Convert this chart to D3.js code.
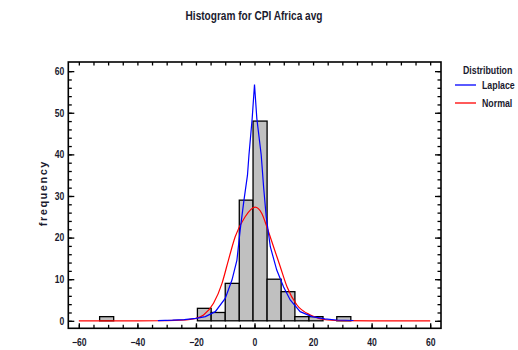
<!DOCTYPE html>
<html>
<head>
<meta charset="utf-8">
<script src="https://cdn.jsdelivr.net/npm/d3@7"></script>
<style>
  body { margin: 0; background: #fff; }
  svg text { font-family: "Liberation Sans Narrow", "Arial Narrow", "Liberation Sans", Arial, sans-serif; fill: #1a1a2e; }
</style>
</head>
<body>
<svg id="chart" width="518" height="350"></svg>
<script>
// ---- data ----
const binEdges = [-52.9, -48.1, -43.4, -38.6, -33.8, -29.1, -24.3, -19.5, -14.8, -10.0, -5.2, -0.5, 4.3, 9.1, 13.8, 18.6, 23.4, 28.1, 32.9];
const binCounts = [1, 0, 0, 0, 0, 0, 0, 3, 2, 9, 29, 48, 10, 7, 1, 1, 0, 1];

const laplaceX = [-33, -28, -24, -20, -16.8, -13.4, -10, -7.7, -6.0, -4.9, -3.6, -2.4, -1.9, -0.8, 0, 0.8, 2.3, 3.1, 4.0, 5.4, 7.6, 9.9, 12.2, 15.6, 19.6, 24, 28, 33.8];
const laplaceY = [0.05, 0.15, 0.3, 0.6, 1.0, 2.2, 5.4, 9.8, 14.6, 21.8, 29, 35, 39.8, 48.6, 56.8, 48.6, 39.8, 32.2, 25, 17.8, 12.2, 8.2, 5.0, 2.2, 1.0, 0.45, 0.2, 0.08];

const normalX = [-60, -40, -30, -25, -20, -17.4, -14, -11.1, -8.9, -6.6, -3.2, 0.2, 2.5, 4.2, 6.5, 8.8, 11.1, 14.5, 19.1, 22, 25, 30, 40, 60];
const normalY = [0, 0, 0.03, 0.15, 0.6, 1.4, 4.2, 9.0, 14.6, 20.2, 25.0, 27.3, 25.8, 22.6, 17.8, 13.0, 8.2, 3.8, 1.4, 0.6, 0.2, 0.03, 0, 0];

const xTicks = [-60, -40, -20, 0, 20, 40, 60];
const yTicks = [0, 10, 20, 30, 40, 50, 60];
const legendNames = ["Laplace", "Normal"];
const legendColors = ["#0000ff", "#ff0000"];

// ---- layout ----
const svg = d3.select("#chart");
const L = 68.3, R = 441, T = 62, B = 328.3;
const x = d3.scaleLinear().domain([-63.6, 63.7]).range([L, R]);
const y = d3.scaleLinear().domain([-1.8, 62.2]).range([B, T]);

// squeeze text horizontally to mimic the condensed font of the original
function condense(sel, k) {
  sel.each(function () {
    const w = this.getComputedTextLength();
    if (w > 0) d3.select(this).attr("textLength", w * k).attr("lengthAdjust", "spacingAndGlyphs");
  });
}

// title
svg.append("text").attr("x", 254).attr("y", 20).attr("text-anchor", "middle")
  .style("font-size", "12px").style("font-weight", "bold").text("Histogram for CPI Africa avg")
  .call(condense, 0.84);

// bars
const bins = binCounts.map((c, i) => ({ lo: binEdges[i], hi: binEdges[i + 1], c }));
svg.append("g").selectAll("rect").data(bins.filter(d => d.c > 0)).join("rect")
  .attr("x", d => x(d.lo)).attr("width", d => x(d.hi) - x(d.lo))
  .attr("y", d => y(d.c)).attr("height", d => y(0) - y(d.c))
  .attr("fill", "#c0c0c0").attr("stroke", "#000").attr("stroke-width", 1.3);

// curves
const line = d3.line().x(d => x(d[0])).y(d => y(d[1])).curve(d3.curveMonotoneX);
svg.append("path").datum(normalX.map((v, i) => [v, normalY[i]]))
  .attr("d", line).attr("fill", "none").attr("stroke", "#ff0000").attr("stroke-width", 1.2);
svg.append("path").datum(laplaceX.map((v, i) => [v, laplaceY[i]]))
  .attr("d", d3.line().x(d => x(d[0])).y(d => y(d[1])))
  .attr("fill", "none").attr("stroke", "#0000ff").attr("stroke-width", 1.2);

// axes
function styleAxis(g) {
  g.select(".domain").remove();
  g.selectAll("line").attr("stroke", "#000").attr("stroke-width", 1.3);
  g.selectAll("text").style("font-size", "10.5px").style("font-weight", "bold").attr("fill", "#1a1a2e")
    .call(condense, 0.82);
}
const minorX = d3.range(-60, 61, 5), minorY = d3.range(0, 61, 2);
svg.append("g").attr("transform", `translate(0,${B})`)
  .call(d3.axisBottom(x).tickValues(minorX).tickSize(-3.5).tickFormat("")).call(styleAxis);
svg.append("g").attr("transform", `translate(0,${B})`)
  .call(d3.axisBottom(x).tickValues(xTicks).tickSize(-5).tickPadding(10).tickFormat(d3.format("d"))).call(styleAxis);
svg.append("g").attr("transform", `translate(0,${T})`)
  .call(d3.axisTop(x).tickValues(minorX).tickSize(-3.5).tickFormat("")).call(styleAxis);
svg.append("g").attr("transform", `translate(${L},0)`)
  .call(d3.axisLeft(y).tickValues(minorY).tickSize(-3.5).tickFormat("")).call(styleAxis);
svg.append("g").attr("transform", `translate(${L},0)`)
  .call(d3.axisLeft(y).tickValues(yTicks).tickSize(-6).tickPadding(4).tickFormat(d3.format("d"))).call(styleAxis);
svg.append("g").attr("transform", `translate(${R},0)`)
  .call(d3.axisRight(y).tickValues(minorY).tickSize(-3.5).tickFormat("")).call(styleAxis);
svg.append("g").attr("transform", `translate(${R},0)`)
  .call(d3.axisRight(y).tickValues(yTicks).tickSize(-6).tickFormat("")).call(styleAxis);

// frame
svg.append("rect").attr("x", L).attr("y", T).attr("width", R - L).attr("height", B - T)
  .attr("fill", "none").attr("stroke", "#000").attr("stroke-width", 1.6);

// y label
svg.append("text").attr("transform", `translate(47,${(T + B) / 2 - 2}) rotate(-90)`)
  .attr("text-anchor", "middle").style("font-size", "11px").style("font-weight", "bold")
  .style("letter-spacing", "1.5px").text("frequency");

// legend (scaled horizontally so that every text stays inside the picture)
const lg = svg.append("g");
lg.append("text").attr("transform", "translate(463,74) scale(0.8,1)")
  .style("font-size", "11px").style("font-weight", "bold").text("Distribution");
legendNames.forEach((n, i) => {
  const yy = 85 + i * 18;
  lg.append("line").attr("x1", 455).attr("x2", 476).attr("y1", yy).attr("y2", yy)
    .attr("stroke", legendColors[i]).attr("stroke-width", 1.3);
  lg.append("text").attr("transform", `translate(482,${yy + 4}) scale(0.8,1)`)
    .style("font-size", "11px").style("font-weight", "bold").text(n);
});
</script>
</body>
</html>
